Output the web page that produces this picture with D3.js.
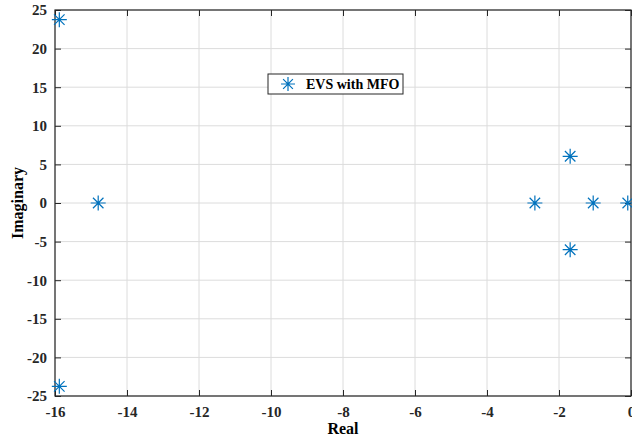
<!DOCTYPE html>
<html>
<head>
<meta charset="utf-8">
<script src="https://cdn.jsdelivr.net/npm/d3@7"></script>
<style>
  body { margin: 0; background: #fff; }
  text { font-family: 'Liberation Serif', 'Times New Roman', serif; font-weight: bold; }
</style>
</head>
<body>
<script>
'use strict';

// eigenvalues
var realParts = [-15.88, -15.88, -14.8, -2.67, -1.69, -1.69, -1.05, -0.09],
  imagParts = [23.75, -23.75, 0, 0, 6.05, -6.05, 0, 0],
  xTicks = [-16, -14, -12, -10, -8, -6, -4, -2, 0],
  yTicks = [-25, -20, -15, -10, -5, 0, 5, 10, 15, 20, 25],
  seriesName = 'EVS with MFO';

var margin = {top: 10, right: 1, bottom: 46, left: 55},
  width = 632 - margin.left - margin.right,
  height = 442 - margin.top - margin.bottom;

var x = d3.scaleLinear().domain([-16, 0]).range([0, width]),
  y = d3.scaleLinear().domain([-25, 25]).range([height, 0]);

// plain hyphen for negatives, like matlab
var fmt = function(d) { return String(d); };

var svg = d3.select('body').append('svg')
  .attr('width', 632)
  .attr('height', 442);

var g = svg.append('g')
  .attr('transform', 'translate(' + margin.left + ',' + margin.top + ')');

// grid
g.selectAll('.vgrid').data(xTicks).enter().append('line')
  .attr('x1', function(d) { return x(d); })
  .attr('x2', function(d) { return x(d); })
  .attr('y1', 0).attr('y2', height)
  .attr('stroke', '#dcdcdc').attr('stroke-width', 1);

g.selectAll('.hgrid').data(yTicks).enter().append('line')
  .attr('y1', function(d) { return y(d); })
  .attr('y2', function(d) { return y(d); })
  .attr('x1', 0).attr('x2', width)
  .attr('stroke', '#dcdcdc').attr('stroke-width', 1);

// axes, ticks inward like matlab
function styleAxis(sel) {
  sel.select('.domain').remove();
  sel.selectAll('.tick line').attr('stroke', '#262626');
  sel.selectAll('.tick text')
    .attr('fill', '#262626')
    .style('font-size', '15px');
}

g.append('g')
  .attr('transform', 'translate(0,' + height + ')')
  .call(d3.axisBottom(x).tickValues(xTicks).tickSize(-6).tickPadding(10).tickFormat(fmt))
  .call(styleAxis);

g.append('g')
  .call(d3.axisLeft(y).tickValues(yTicks).tickSize(-6).tickPadding(8).tickFormat(fmt))
  .call(styleAxis);

g.append('g')
  .call(d3.axisTop(x).tickValues(xTicks).tickSize(-6).tickFormat(''))
  .call(styleAxis);

g.append('g')
  .attr('transform', 'translate(' + width + ',0)')
  .call(d3.axisRight(y).tickValues(yTicks).tickSize(-6).tickFormat(''))
  .call(styleAxis);

g.append('rect')
  .attr('width', width).attr('height', height)
  .attr('fill', 'none')
  .attr('stroke', '#262626')
  .attr('stroke-width', 1.2);

// asterisk marker
function star(r) {
  var d = r * 0.7;
  return 'M' + (-r) + ',0L' + r + ',0' +
    'M0,' + (-r) + 'L0,' + r +
    'M' + (-d) + ',' + (-d) + 'L' + d + ',' + d +
    'M' + (-d) + ',' + d + 'L' + d + ',' + (-d);
}

g.selectAll('.pt').data(realParts).enter().append('path')
  .attr('class', 'pt')
  .attr('transform', function(d, i) {
    return 'translate(' + x(d) + ',' + y(imagParts[i]) + ')';
  })
  .attr('d', star(7.5))
  .attr('stroke', '#0072bd')
  .attr('stroke-width', 1.2)
  .attr('fill', 'none');

// axis labels
svg.append('text')
  .attr('x', margin.left + width / 2)
  .attr('y', 434)
  .attr('text-anchor', 'middle')
  .style('font-size', '16px')
  .text('Real');

svg.append('text')
  .attr('transform', 'translate(23,' + (margin.top + height / 2) + ') rotate(-90)')
  .attr('text-anchor', 'middle')
  .style('font-size', '16px')
  .text('Imaginary');

// legend
var legend = svg.append('g').attr('transform', 'translate(268,74)');
legend.append('rect')
  .attr('width', 135).attr('height', 20)
  .attr('fill', '#fff')
  .attr('stroke', '#262626')
  .attr('stroke-width', 1);
legend.append('path')
  .attr('transform', 'translate(20,10)')
  .attr('d', star(7))
  .attr('stroke', '#0072bd')
  .attr('stroke-width', 1.2)
  .attr('fill', 'none');
legend.append('text')
  .attr('x', 38).attr('y', 15)
  .style('font-size', '14px')
  .text(seriesName);
</script>
</body>
</html>
